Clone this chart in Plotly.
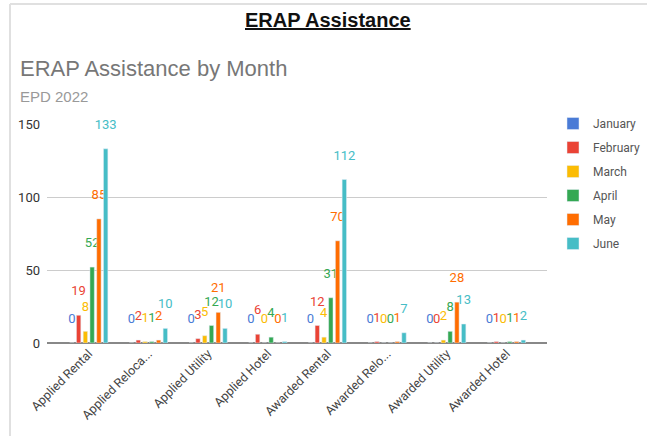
import plotly.graph_objects as go

categories = ["Applied Rental", "Applied Reloca...", "Applied Utility", "Applied Hotel",
              "Awarded Rental", "Awarded Relo...", "Awarded Utility", "Awarded Hotel"]
months = ["January", "February", "March", "April", "May", "June"]
january = [0, 0, 0, 0, 0, 0, 0, 0]
february = [19, 2, 3, 6, 12, 1, 0, 1]
march = [8, 1, 5, 0, 4, 0, 2, 0]
april = [52, 1, 12, 4, 31, 0, 8, 1]
may = [85, 2, 21, 0, 70, 1, 28, 1]
june = [133, 10, 10, 1, 112, 7, 13, 2]
series = [january, february, march, april, may, june]
colors = ["#4a7bd6", "#ea4335", "#fbbc04", "#34a853", "#ff6d01", "#46bdc6"]

W, H = 647, 436
L, R, T, B = 47, 547, 124, 343

fig = go.Figure()
for name, vals, c in zip(months, series, colors):
    fig.add_trace(go.Bar(
        x=categories, y=vals, name=name, marker_color=c, legendgroup=name,
        text=[str(v) for v in vals], texttemplate="%{text}<br> ",
        textposition="outside",
        constraintext="none", cliponaxis=False,
        textfont=dict(color=c, size=13, family="Roboto"),
    ))

def px(x):
    return (x - L) / (R - L)

def py(y):
    return (B - y) / (B - T)

fig.update_layout(
    width=W, height=H,
    margin=dict(l=L, r=W - R, t=T, b=H - B, autoexpand=False),
    paper_bgcolor="white", plot_bgcolor="white",
    barmode="group", bargap=0.32, bargroupgap=0.35,
    font=dict(family="Roboto", color="#444"),
    showlegend=True,
    legend=dict(x=px(553), y=py(109), xanchor="left", yanchor="top",
                font=dict(size=12, color="#555", family="Roboto"),
                tracegroupgap=5, itemwidth=30),
    xaxis=dict(range=[-0.70, 7.68], tickangle=-45, showgrid=False,
               tickfont=dict(size=12.5, color="#444", family="Roboto"),
               showline=False, ticks=""),
    yaxis=dict(range=[0, 150], tickvals=[0, 50, 100, 150], showgrid=True,
               gridcolor="#cccccc", gridwidth=1, zeroline=True,
               zerolinecolor="#888", zerolinewidth=2,
               tickfont=dict(size=13, color="#333", family="Roboto"),
               ticklabelstandoff=6),
    annotations=[
        dict(text="<b><u>ERAP Assistance</u></b>", x=px(328), y=py(20),
             xref="paper", yref="paper", showarrow=False, yanchor="middle",
             font=dict(size=20, color="#111", family="Liberation Sans")),
        dict(text="ERAP Assistance by Month", x=px(18), y=py(68),
             xref="paper", yref="paper", showarrow=False, xanchor="left", yanchor="middle",
             font=dict(size=22, color="#777", family="Liberation Sans")),
        dict(text="EPD 2022", x=px(18), y=py(96),
             xref="paper", yref="paper", showarrow=False, xanchor="left", yanchor="middle",
             font=dict(size=15, color="#999", family="Liberation Sans")),
    ],
    shapes=[
        dict(type="line", xref="paper", yref="paper", x0=px(10), x1=px(647),
             y0=py(4), y1=py(4), line=dict(color="#e0e0e0", width=2)),
        dict(type="line", xref="paper", yref="paper", x0=px(10), x1=px(10),
             y0=py(4), y1=py(436), line=dict(color="#e0e0e0", width=2)),
    ],
)

fig.write_html("out.html")
